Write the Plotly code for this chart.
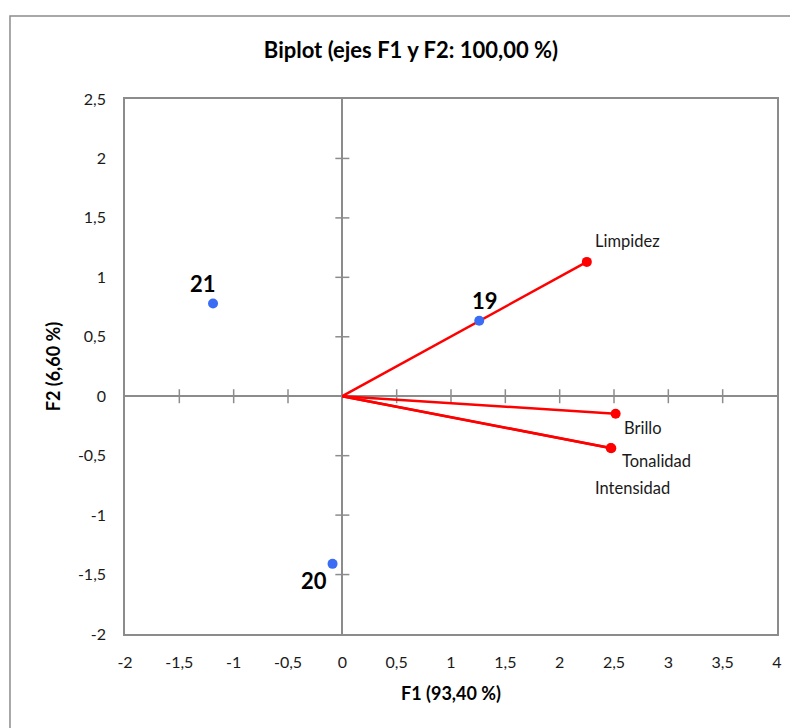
import plotly.graph_objects as go

# ---- data ----
obs_labels = ["19", "20", "21"]
obs_f1 = [1.26, -0.09, -1.19]
obs_f2 = [0.635, -1.41, 0.78]

var_labels = ["Limpidez", "Brillo", "Tonalidad", "Intensidad"]
var_f1 = [2.25, 2.515, 2.475, 2.47]
var_f2 = [1.13, -0.147, -0.438, -0.435]

x_ticks = [-2, -1.5, -1, -0.5, 0, 0.5, 1, 1.5, 2, 2.5, 3, 3.5, 4]
y_ticks = [-2, -1.5, -1, -0.5, 0, 0.5, 1, 1.5, 2, 2.5]

def fmt(v):
    return ("%g" % v).replace(".", ",")

FONT = "Lato, 'Open Sans', sans-serif"
GRAY = "#8c8c8c"
RED = "#ff0000"
BLUE = "#3a6cf4"

fig = go.Figure()

# cross ticks on the zero lines
xt_in = [t for t in x_ticks if t not in (-2, 0, 4)]
yt_in = [t for t in y_ticks if t not in (-2, 0, 2.5)]
fig.add_trace(go.Scatter(
    x=xt_in, y=[0] * len(xt_in),
    mode="markers", hoverinfo="skip", showlegend=False,
    marker=dict(symbol="line-ns", size=10, line=dict(color=GRAY, width=1.5))))
fig.add_trace(go.Scatter(
    x=[0] * len(yt_in), y=yt_in,
    mode="markers", hoverinfo="skip", showlegend=False,
    marker=dict(symbol="line-ew", size=10, line=dict(color=GRAY, width=1.5))))

# variable vectors
for lab, vx, vy in zip(var_labels, var_f1, var_f2):
    fig.add_trace(go.Scatter(
        x=[0, vx], y=[0, vy], mode="lines", showlegend=False,
        line=dict(color=RED, width=2.5), hoverinfo="skip"))
fig.add_trace(go.Scatter(
    x=var_f1, y=var_f2, mode="markers", showlegend=False,
    marker=dict(color=RED, size=10)))

# observations
fig.add_trace(go.Scatter(
    x=obs_f1, y=obs_f2, mode="markers", showlegend=False,
    marker=dict(color=BLUE, size=10)))

# label offsets (pixels)
var_shift = {"Limpidez": (41, 21), "Brillo": (27, -14),
             "Tonalidad": (45, -13), "Intensidad": (22, -40)}
obs_shift = {"19": (6, 20), "20": (-19, -17), "21": (-10, 20)}

for lab, vx, vy in zip(var_labels, var_f1, var_f2):
    dx, dy = var_shift[lab]
    fig.add_annotation(x=vx, y=vy, text=lab, showarrow=False,
                       xshift=dx, yshift=dy,
                       font=dict(family=FONT, size=16.5, color="#1a1a1a"))
for lab, ox, oy in zip(obs_labels, obs_f1, obs_f2):
    dx, dy = obs_shift[lab]
    fig.add_annotation(x=ox, y=oy, text="<b>%s</b>" % lab, showarrow=False,
                       xshift=dx, yshift=dy,
                       font=dict(family=FONT, size=22, color="#000000"))

# outer chart border
fig.add_shape(type="rect", xref="paper", yref="paper",
              x0=-0.1764, x1=1.06, y0=-0.22, y1=1.155,
              line=dict(color=GRAY, width=1.5), layer="below")

fig.update_layout(
    width=798, height=728,
    margin=dict(l=117, r=29, t=91, b=102),
    paper_bgcolor="white", plot_bgcolor="white",
    font=dict(family=FONT, size=16, color="#1a1a1a"),
    title=dict(text="<b>Biplot (ejes F1 y F2: 100,00 %)</b>",
               x=403 / 798, xanchor="center", y=1 - 42 / 728, yanchor="middle",
               font=dict(family=FONT, size=22, color="#000000")),
    xaxis=dict(range=[-2, 4], tickvals=x_ticks, ticktext=[fmt(t) for t in x_ticks],
               showgrid=False, zeroline=True, zerolinecolor=GRAY, zerolinewidth=1.5,
               showline=True, linecolor=GRAY, linewidth=1.5, mirror=True,
               ticks="", ticklabelstandoff=13,
               title=dict(text="<b>F1 (93,40 %)</b>", standoff=17,
                          font=dict(family=FONT, size=18, color="#000000"))),
    yaxis=dict(range=[-2, 2.5], tickvals=y_ticks, ticktext=[fmt(t) for t in y_ticks],
               showgrid=False, zeroline=True, zerolinecolor=GRAY, zerolinewidth=1.5,
               showline=True, linecolor=GRAY, linewidth=1.5, mirror=True,
               ticks="", ticklabelstandoff=14,
               title=dict(text="<b>F2 (6,60 %)</b>", standoff=13,
                          font=dict(family=FONT, size=18, color="#000000"))),
)

fig.write_html("out.html")
